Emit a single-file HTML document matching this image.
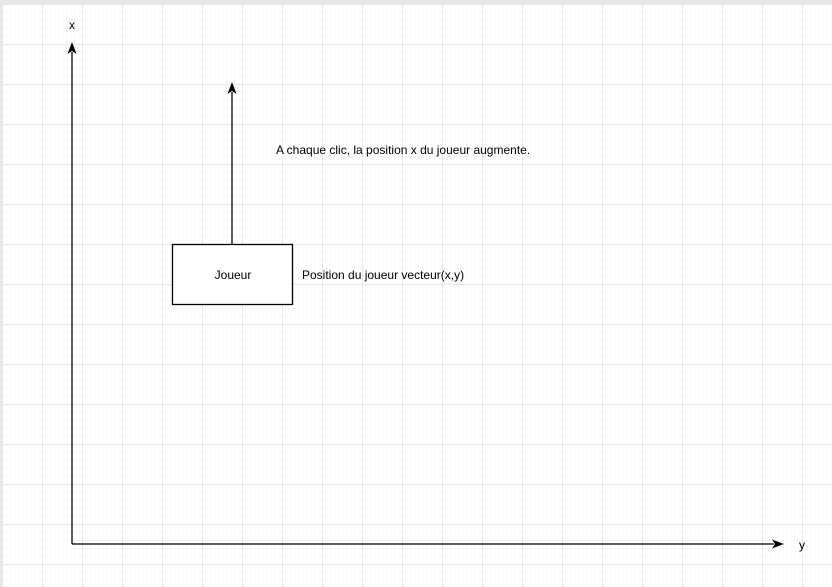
<!DOCTYPE html>
<html><head><style>
body{margin:0;width:832px;height:587px;overflow:hidden;background:#e8e8e8;}
#c{position:absolute;left:2px;top:4px;width:830px;height:583px;background-color:#fff;
background-image:linear-gradient(#e6e6e6 1px,transparent 1px),linear-gradient(90deg,#e6e6e6 1px,transparent 1px),linear-gradient(#f6f6f6 1px,transparent 1px),linear-gradient(90deg,#f6f6f6 1px,transparent 1px);
background-size:40px 40px,40px 40px,8px 8px,8px 8px;background-position:0 0;}
svg{position:absolute;left:0;top:0}
text{font-family:"Liberation Sans",sans-serif;font-size:12px;fill:#000}
</style></head><body>
<div id="c"></div>
<svg width="832" height="587">
<line x1="72" y1="544" x2="72" y2="52" stroke="#000" stroke-width="1.3"/>
<polygon points="72,42 67.5,54 72,51 76.5,54" fill="#000"/>
<line x1="72" y1="544" x2="774" y2="544" stroke="#000" stroke-width="1.3"/>
<polygon points="784,544 772,539.5 775,544 772,548.5" fill="#000"/>
<line x1="232" y1="244" x2="232" y2="92" stroke="#000" stroke-width="1.3"/>
<polygon points="232,82 227.5,94 232,91 236.5,94" fill="#000"/>
<rect x="172.5" y="244.5" width="120" height="60" fill="#fff" stroke="#000" stroke-width="1.3"/>
<text x="233" y="279" text-anchor="middle">Joueur</text>
<text x="302" y="279">Position du joueur vecteur(x,y)</text>
<text x="276" y="154">A chaque clic, la position x du joueur augmente.</text>
<text x="69" y="29">x</text>
<text x="799" y="549">y</text>
</svg>
</body></html>
